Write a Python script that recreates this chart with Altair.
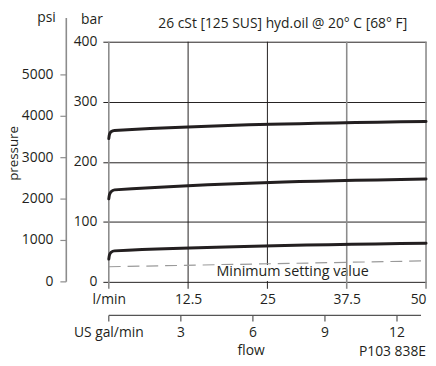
import altair as alt
import pandas as pd

FONT = "Open Sans"
INK = "#231f20"
GRAY = "#8c8c8c"

# ---- data ----
flow_pts = [0, 0.1, 0.35, 0.9, 50]
curve_top = [238.7, 245.5, 250.0, 252.2, 267.2]
curve_mid = [138.3, 145.0, 150.0, 153.2, 171.2]
curve_low = [37.9, 44.5, 49.2, 51.6, 64.2]

min_flow = [0, 50]
min_bar = [25.2, 35.0]

lpm_ticks = [0, 12.5, 25, 37.5, 50]
lpm_black = [12.5, 25]
lpm_gray = [0, 37.5, 50]
bar_ticks = [0, 100, 200, 300, 400]
psi_ticks = [0, 1000, 2000, 3000, 4000, 5000]
gal_ticks = [0, 3, 6, 9, 12]
gal_labels = ["US gal/min", "3", "6", "9", "12"]
gal_end = 13

PSI_PER_BAR = 14.5038
LPM_PER_GAL = 3.785411784

rows = []
for name, vals in [("top", curve_top), ("mid", curve_mid), ("low", curve_low)]:
    for f, v in zip(flow_pts, vals):
        rows.append({"curve": name, "flow": f, "bar": v})
curves_df = pd.DataFrame(rows)
min_df = pd.DataFrame({"flow": min_flow, "bar": min_bar})
one_df = pd.DataFrame({"k": [0]})
psi_df = pd.DataFrame({"psi": psi_ticks, "bar": [p / PSI_PER_BAR for p in psi_ticks],
                       "label": [str(p) for p in psi_ticks]})
gal_df = pd.DataFrame({"gal": gal_ticks, "flow": [g * LPM_PER_GAL for g in gal_ticks],
                       "label": gal_labels})
black_df = pd.DataFrame({"flow": lpm_black})
gray_df = pd.DataFrame({"flow": lpm_gray})

xs = alt.Scale(domain=[0, 50], nice=False, zero=False)
ys = alt.Scale(domain=[0, 400], nice=False)

curves = alt.Chart(curves_df).mark_line(
    color=INK, strokeWidth=3, interpolate="monotone", strokeCap="round"
).encode(
    x=alt.X("flow:Q", scale=xs, axis=alt.Axis(
        values=lpm_ticks, ticks=False, domain=False, grid=False, title=None,
        labelExpr="datum.value == 0 ? 'l/min' : format(datum.value, '~g')",
        labelPadding=11,
        labelAlign={"condition": {"test": "datum.value == 50", "value": "right"}, "value": "center"},
    )),
    y=alt.Y("bar:Q", scale=ys, axis=alt.Axis(
        values=bar_ticks, tickSize=6, tickColor=INK, grid=True, gridColor=INK,
        gridOpacity=1, gridWidth=1, domain=False, labelPadding=6, title=None,
    )),
    detail="curve:N",
)

vblack = alt.Chart(black_df).mark_rule(color=INK, strokeWidth=1).encode(
    x=alt.X("flow:Q", scale=xs), y=alt.value(0), y2=alt.value(250))
vgray = alt.Chart(gray_df).mark_rule(color=GRAY, strokeWidth=1.6).encode(
    x=alt.X("flow:Q", scale=xs), y=alt.value(0), y2=alt.value(250))

min_line = alt.Chart(min_df).mark_line(color="#9a9a9a", strokeWidth=1.2, strokeDash=[12, 7]).encode(
    x=alt.X("flow:Q", scale=xs), y=alt.Y("bar:Q", scale=ys))

white_box = alt.Chart(one_df).mark_rect(color="white").encode(
    x=alt.value(110), x2=alt.value(260), y=alt.value(226), y2=alt.value(242))
min_text = alt.Chart(one_df).mark_text(
    text="Minimum setting value", font=FONT, fontSize=14.5, color=INK, align="center", baseline="middle"
).encode(x=alt.value(186), y=alt.value(233))

# psi axis
psi_line = alt.Chart(one_df).mark_rule(color=GRAY, strokeWidth=1.6).encode(
    x=alt.value(-43), y=alt.value(-24), y2=alt.value(243))
psi_tick = alt.Chart(psi_df).mark_rule(color=GRAY, strokeWidth=1.2).encode(
    x=alt.value(-49), x2=alt.value(-43), y=alt.Y("bar:Q", scale=ys))
psi_lab = alt.Chart(psi_df).mark_text(
    font=FONT, fontSize=14, color=INK, align="right", baseline="middle"
).encode(x=alt.value(-56), y=alt.Y("bar:Q", scale=ys), text="label:N")

# gal axis
gal_line = alt.Chart(one_df).mark_rule(color="#555555", strokeWidth=1.2).encode(
    x=alt.datum(0, scale=xs), x2=alt.datum(gal_end * LPM_PER_GAL), y=alt.value(277))
gal_tick = alt.Chart(gal_df).mark_rule(color="#555555", strokeWidth=1.2).encode(
    x=alt.X("flow:Q", scale=xs), y=alt.value(277), y2=alt.value(283))
gal_lab = alt.Chart(gal_df).mark_text(
    font=FONT, fontSize=14, color=INK, align="center", baseline="middle"
).encode(x=alt.X("flow:Q", scale=xs), y=alt.value(295), text="label:N")

def label(txt, x, y, size=14, angle=0, align="center"):
    return alt.Chart(one_df).mark_text(
        text=txt, font=FONT, fontSize=size, color=INK, align=align, baseline="middle", angle=angle
    ).encode(x=alt.value(x), y=alt.value(y))

texts = [
    label("psi", -63, -24),
    label("bar", -17, -22),
    label("pressure", -96, 113, size=13.5, angle=270),
    label("26 cSt [125 SUS] hyd.oil @ 20° C [68° F]", 176, -18, size=14),
    label("flow", 144, 313),
    label("P103 838E", 321, 314, align="right"),
]

chart = alt.layer(
    vblack, min_line, white_box, min_text, vgray, curves,
    psi_line, psi_tick, psi_lab, gal_line, gal_tick, gal_lab, *texts
).properties(
    width=321, height=243,
    autosize=alt.AutoSizeParams(type="none"),
    padding={"left": 102, "top": 32, "right": 2, "bottom": 82},
).configure_axis(
    labelFont=FONT, labelFontSize=14, labelColor=INK,
).configure_view(stroke=None)

chart.save("out.html", embed_options={"renderer": "svg", "actions": False})
